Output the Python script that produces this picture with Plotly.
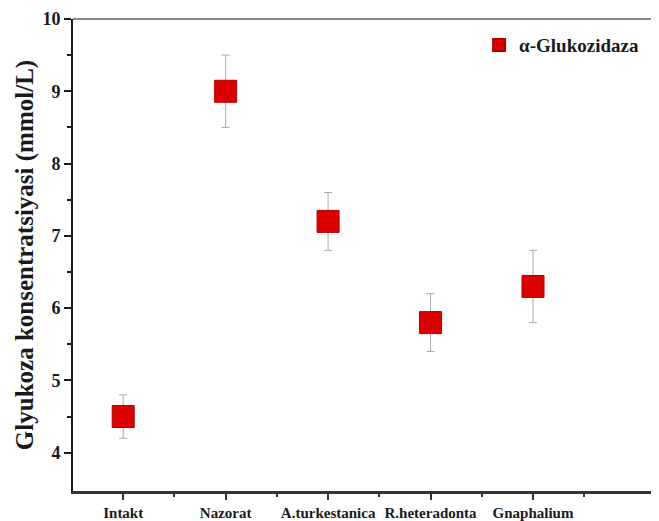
import plotly.graph_objects as go

categories = ["Intakt", "Nazorat", "A.turkestanica", "R.heteradonta", "Gnaphalium"]
values = [4.5, 9.0, 7.2, 5.8, 6.3]
errors = [0.3, 0.5, 0.4, 0.4, 0.5]
series_name = "α-Glukozidaza"
y_ticks = [4, 5, 6, 7, 8, 9, 10]

x_idx = list(range(len(categories)))
serif = "Liberation Serif, Times New Roman, serif"

fig = go.Figure()
fig.add_trace(go.Scatter(
    x=x_idx, y=values, mode="markers", name=f"<b>{series_name}</b>",
    marker=dict(symbol="square", size=22, color="#dd0000",
                line=dict(color="#b00000", width=1)),
    error_y=dict(type="data", array=errors, visible=True,
                 color="#b0a8a8", thickness=1, width=4),
))

fig.update_layout(
    width=651, height=513,
    margin=dict(l=65, r=0, t=11, b=30),
    plot_bgcolor="white", paper_bgcolor="white",
    showlegend=True,
    legend=dict(x=0.693, y=0.985, xanchor="left", yanchor="top",
                bgcolor="rgba(0,0,0,0)",
                font=dict(family=serif, size=19, color="#1a1a1a"),
                itemsizing="constant"),
    font=dict(family=serif, color="#1a1a1a"),
)
fig.update_xaxes(
    range=[-0.49, 5.23], tickvals=x_idx, ticktext=[f"<b>{c}</b>" for c in categories],
    showgrid=False, zeroline=False, showline=True, linecolor="#333", linewidth=2.5,
    ticks="outside", ticklen=6, tickwidth=1.5, tickcolor="#333", automargin=False,
    tickfont=dict(family=serif, size=15, color="#1a1a1a"),
    minor=dict(tickvals=[-0.5, 0.5, 1.5, 2.5, 3.5, 4.5], ticks="outside", ticklen=3,
               tickcolor="#333", tickwidth=1.5),
)
fig.update_yaxes(
    range=[3.47, 10], tickvals=y_ticks, ticktext=[f"<b>{t}</b>" for t in y_ticks],
    showgrid=False, zeroline=False, showline=True, linecolor="#1a1a1a", linewidth=2,
    ticks="outside", ticklen=7, tickwidth=1.5, tickcolor="#1a1a1a", automargin=False,
    tickfont=dict(family=serif, size=18, color="#1a1a1a"),
    minor=dict(tickvals=[4.5, 5.5, 6.5, 7.5, 8.5, 9.5], ticks="outside", ticklen=4,
               tickcolor="#1a1a1a", tickwidth=1.5),
    title=dict(text="<b>Glyukoza konsentratsiyasi (mmol/L)</b>",
               font=dict(family=serif, size=25, color="#1a1a1a"), standoff=2),
)
fig.add_shape(type="line", xref="paper", yref="paper", x0=0, x1=1, y0=1, y1=1,
              line=dict(color="#888", width=2))

fig.write_html("out.html")
